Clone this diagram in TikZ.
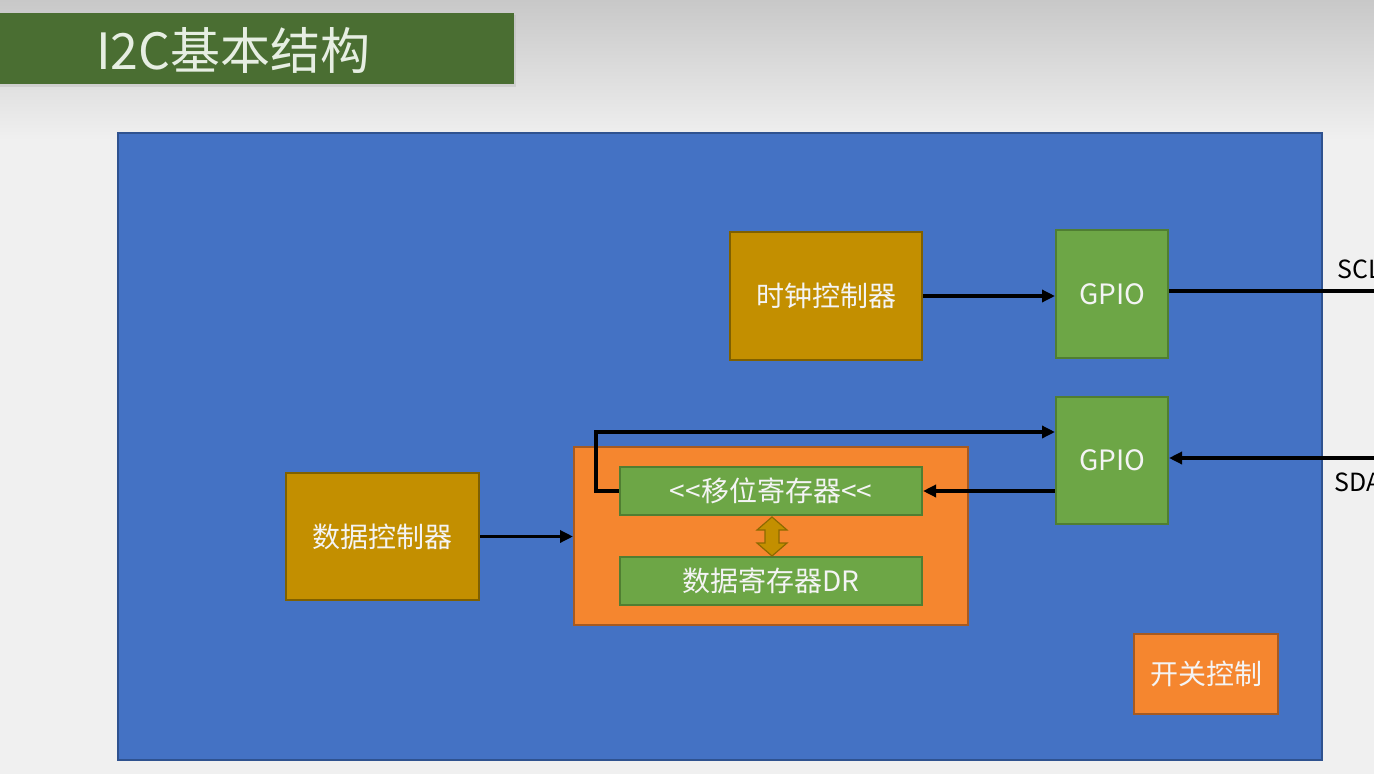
\documentclass[tikz,border=0pt]{standalone}
\usepackage{fontspec}
\setmainfont{Noto Sans CJK SC}
\usetikzlibrary{arrows.meta}
\definecolor{bgtop}{HTML}{C8C8C8}
\definecolor{bgbot}{HTML}{F0F0F0}
\definecolor{titlegreen}{HTML}{4A6E32}
\definecolor{titletext}{HTML}{E6EEE2}
\definecolor{chipblue}{HTML}{4472C4}
\definecolor{chipblueline}{HTML}{2F528F}
\definecolor{gold}{HTML}{C38F00}
\definecolor{goldline}{HTML}{7F6000}
\definecolor{grn}{HTML}{6DA646}
\definecolor{grnline}{HTML}{507E32}
\definecolor{org}{HTML}{F5862F}
\definecolor{orgline}{HTML}{A65A21}
\definecolor{txt}{HTML}{F4F4F4}
\tikzset{
  blk/.style={draw, line width=2pt, text=txt, font=\fontsize{28}{32}\selectfont, inner sep=0pt},
  goldbox/.style={blk, fill=gold, draw=goldline},
  grnbox/.style={blk, fill=grn, draw=grnline},
  orgbox/.style={blk, fill=org, draw=orgline},
  wire/.style={line width=3.4pt, -{Triangle[length=13pt,width=12pt]}},
  plainwire/.style={line width=3.4pt},
  lbl/.style={font=\fontsize{25}{29}\selectfont, text=black, inner sep=0pt, anchor=west}
}
\begin{document}
\begin{tikzpicture}[x=1pt,y=-1pt]
\useasboundingbox (0,0) rectangle (1374,774);
\clip (0,0) rectangle (1374,774);
% background
\fill[bgbot] (0,0) rectangle (1374,774);
\shade[top color=bgtop, bottom color=bgbot] (0,0) rectangle (1374,140);
% title bar
\fill[black!30, opacity=0.35] (0,15) rectangle (516,87);
\node[fill=titlegreen, minimum width=514pt, minimum height=71pt, inner sep=0pt, anchor=north west] (title) at (0,13) {};
\node[text=titletext, font=\fontsize{50}{54}\selectfont, anchor=west, inner sep=0pt] (titletxt) at (96,50) {I2C基本结构};
% chip
\node[fill=chipblue, draw=chipblueline, line width=2pt, minimum width=1204pt, minimum height=627pt, inner sep=0pt] (chip) at (720,446.5) {};
% blocks
\node[goldbox, minimum width=192pt, minimum height=128pt] (clk) at (826,296) {时钟控制器};
\node[grnbox, minimum width=112pt, minimum height=128pt] (gpio1) at (1112,294) {GPIO};
\node[grnbox, minimum width=112pt, minimum height=127pt] (gpio2) at (1112,460.5) {GPIO};
\node[goldbox, minimum width=193pt, minimum height=127pt] (dc) at (382.5,536.5) {数据控制器};
\node[orgbox, minimum width=394pt, minimum height=178pt] (cont) at (771,536) {};
\node[grnbox, minimum width=302pt, minimum height=48pt] (shift) at (771,491) {<{}<移位寄存器<{}<};
\node[grnbox, minimum width=302pt, minimum height=48pt] (dr) at (771,581) {数据寄存器DR};
\node[orgbox, minimum width=144pt, minimum height=80pt] (sw) at (1206,674) {开关控制};
% double arrow between shift and DR
\filldraw[fill=gold, draw=goldline!80!gold, line width=1.2pt]
  (772,517) -- (787,530) -- (779,530) -- (779,543) -- (787,543) -- (772,556)
  -- (757,543) -- (765,543) -- (765,530) -- (757,530) -- cycle;
% connectors
\draw[wire] (clk.east) -- (clk.east -| gpio1.west);
\draw[wire] (dc.east) -- (dc.east -| cont.west);
\draw[wire] (gpio2.west |- shift.east) -- (shift.east);
\draw[wire] (shift.west) -- ++(-23,0) |- (gpio2.west |- 0,432);
\coordinate (sclend) at (1380,291);
\coordinate (sdaend) at (1380,458);
\draw[plainwire] (gpio1.east |- sclend) -- (sclend);
\draw[wire] (sdaend) -- (sdaend -| gpio2.east);
\node[lbl] (scl) at (1337,269) {SCL};
\node[lbl] (sda) at (1334,482) {SDA};
\end{tikzpicture}
\end{document}
